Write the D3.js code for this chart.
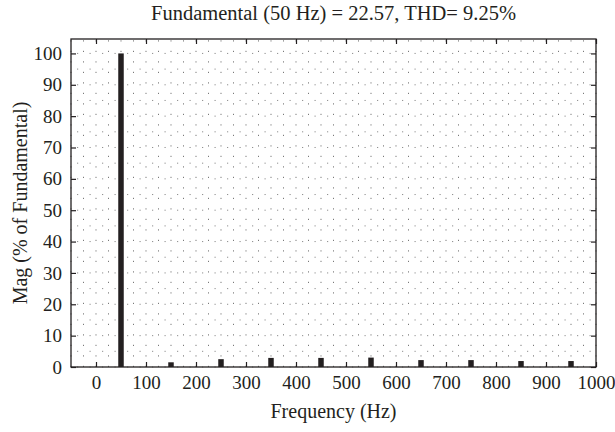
<!DOCTYPE html>
<html>
<head>
<meta charset="utf-8">
<script src="https://cdn.jsdelivr.net/npm/d3@7"></script>
<style>
  html, body { margin: 0; padding: 0; background: #fff; }
  svg { display: block; }
</style>
</head>
<body>
<svg id="chart" width="615" height="432"></svg>
<script>
// Data
const frequencies = [50, 150, 250, 350, 450, 550, 650, 750, 850, 950];
const magnitudes  = [100, 1.5, 2.5, 2.9, 2.9, 3.0, 2.2, 2.2, 1.9, 1.9];
const xTicks = [0, 100, 200, 300, 400, 500, 600, 700, 800, 900, 1000];
const yTicks = [0, 10, 20, 30, 40, 50, 60, 70, 80, 90, 100];
const titleText = "Fundamental (50 Hz) = 22.57, THD= 9.25%";
const xLabelText = "Frequency (Hz)";
const yLabelText = "Mag (% of Fundamental)";

const FONT = "Liberation Serif";
const svg = d3.select("#chart");
const margin = { left: 71, right: 19, top: 39, bottom: 65 };
const W = 615, H = 432;
const x = d3.scaleLinear().domain([-50, 1000]).range([margin.left, W - margin.right]);
const y = d3.scaleLinear().domain([0, 104.6]).range([H - margin.bottom, margin.top]);
const ink = "#231f20";

const g = svg.append("g");

// dotted grid
const xGrid = d3.range(-50, 1001, 25);
const yGrid = d3.range(0, 104.6, 5);
g.append("g").selectAll("line").data(xGrid).join("line")
  .attr("x1", d => x(d)).attr("x2", d => x(d))
  .attr("y1", y.range()[0]).attr("y2", y.range()[1])
  .attr("stroke", "#222").attr("stroke-width", 1)
  .attr("stroke-dasharray", "1.2,9.3").attr("opacity", 0.6);
g.append("g").selectAll("line").data(yGrid).join("line")
  .attr("y1", d => y(d)).attr("y2", d => y(d))
  .attr("x1", x.range()[0] + 6).attr("x2", x.range()[1])
  .attr("stroke", "#222").attr("stroke-width", 1)
  .attr("stroke-dasharray", "1.2,11.3").attr("opacity", 0.5);

// bars
const bw = 5.5;
g.append("g").selectAll("rect").data(frequencies).join("rect")
  .attr("x", (d) => x(d) - bw / 2)
  .attr("width", bw)
  .attr("y", (d, i) => y(magnitudes[i]))
  .attr("height", (d, i) => y(0) - y(magnitudes[i]))
  .attr("fill", ink);

// axes
const fs = 19;
const fmt = d3.format("d");
const xAxisB = d3.axisBottom(x).tickValues(xTicks).tickFormat(fmt).tickSizeInner(-5).tickSizeOuter(0).tickPadding(9);
const xAxisT = d3.axisTop(x).tickValues(xTicks).tickSizeInner(-5).tickSizeOuter(0).tickFormat("");
const yAxisL = d3.axisLeft(y).tickValues(yTicks).tickFormat(fmt).tickSizeInner(-5).tickSizeOuter(0).tickPadding(9);
const yAxisR = d3.axisRight(y).tickValues(yTicks).tickSizeInner(-5).tickSizeOuter(0).tickFormat("");

function style(sel) {
  sel.attr("font-family", FONT).attr("font-size", fs);
  sel.select(".domain").remove();
  sel.selectAll("line").attr("stroke", ink).attr("stroke-width", 1.2);
  sel.selectAll("text").attr("font-family", FONT).attr("font-size", fs).attr("fill", ink);
}
svg.append("g").attr("transform", `translate(0,${y(0)})`).call(xAxisB).call(style);
svg.append("g").attr("transform", `translate(0,${margin.top})`).call(xAxisT).call(style);
svg.append("g").attr("transform", `translate(${margin.left},0)`).call(yAxisL).call(style);
svg.append("g").attr("transform", `translate(${W - margin.right},0)`).call(yAxisR).call(style);

// frame
svg.append("rect")
  .attr("x", margin.left).attr("y", margin.top)
  .attr("width", W - margin.left - margin.right)
  .attr("height", H - margin.top - margin.bottom)
  .attr("fill", "none").attr("stroke", ink).attr("stroke-width", 1.3);

// labels
const cx = (margin.left + W - margin.right) / 2;
function label(sel, size) {
  return sel.attr("font-family", FONT).attr("font-size", size).attr("fill", ink).attr("text-anchor", "middle");
}
svg.append("text").attr("x", cx).attr("y", 20).call(label, 20.5).text(titleText);
svg.append("text").attr("x", cx).attr("y", 418).call(label, 20).text(xLabelText);
svg.append("text").attr("transform", `translate(27,${(margin.top + H - margin.bottom) / 2}) rotate(-90)`)
  .call(label, 20).text(yLabelText);
</script>
</body>
</html>
